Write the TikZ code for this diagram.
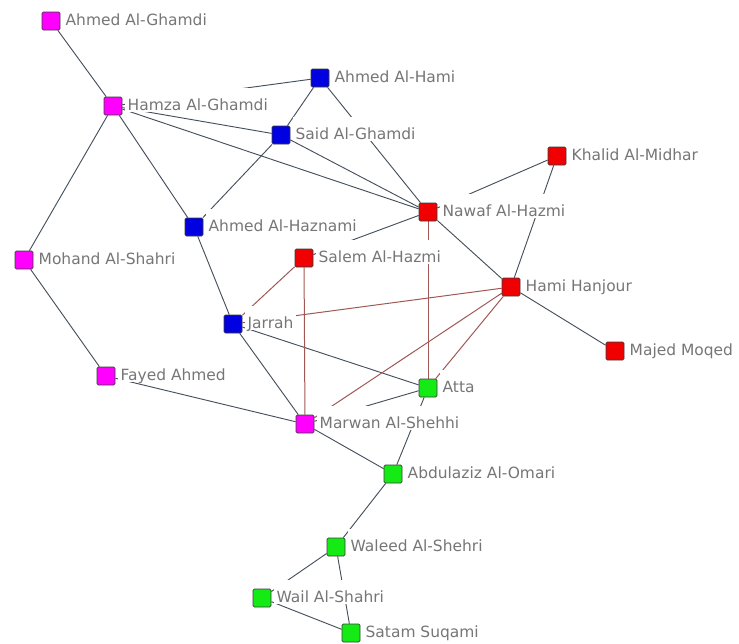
\documentclass[tikz,border=0pt]{standalone}
\usepackage{fontspec}
\setmainfont{DejaVu Sans}
\usetikzlibrary{backgrounds}
\definecolor{hpink}{RGB}{255,0,255}
\definecolor{hblue}{RGB}{0,0,225}
\definecolor{hred}{RGB}{240,0,0}
\definecolor{hgreen}{RGB}{20,235,20}
\definecolor{hborder}{RGB}{60,60,60}
\definecolor{labelgray}{RGB}{118,118,118}
\definecolor{tiegray}{RGB}{70,80,92}
\definecolor{tiered}{RGB}{160,88,84}
\tikzset{
	vert/.style={rectangle,rounded corners=1pt,draw=hborder,line width=0.6pt,minimum size=13.5pt,inner sep=0pt},
	namelabel/.style={fill=white,text=labelgray,font=\fontsize{11.6}{13}\selectfont,inner xsep=2.25pt,inner ysep=0pt,text height=16.5pt,text depth=1.5pt,yshift=4.5pt,label distance=1.5pt},
	tie/.style={color=tiegray, line width=0.7pt},
	redtie/.style={color=tiered, line width=0.75pt}
}
\begin{document}
\begin{tikzpicture}[x=0.75pt,y=-0.75pt]
		\useasboundingbox (0,0) rectangle (739,643);
		\node [vert, fill = hpink, label={[namelabel]right:Ahmed Al-Ghamdi}] (0) at (51, 21) {};
		\node [vert, fill = hpink, label={[namelabel]right:Hamza Al-Ghamdi}] (1) at (113, 106) {};
		\node [vert, fill = hblue, label={[namelabel]right:Ahmed Al-Hami}] (2) at (320, 78) {};
		\node [vert, fill = hblue, label={[namelabel]right:Said Al-Ghamdi}] (3) at (281, 135) {};
		\node [vert, fill = hred, label={[namelabel]right:Khalid Al-Midhar}] (4) at (557, 156) {};
		\node [vert, fill = hred, label={[namelabel]right:Nawaf Al-Hazmi}] (5) at (428, 212) {};
		\node [vert, fill = hblue, label={[namelabel]right:Ahmed Al-Haznami}] (6) at (194, 227) {};
		\node [vert, fill = hpink, label={[namelabel]right:Mohand Al-Shahri}] (7) at (24, 260) {};
		\node [vert, fill = hred, label={[namelabel]right:Salem Al-Hazmi}] (8) at (304, 258) {};
		\node [vert, fill = hred, label={[namelabel]right:Hami Hanjour}] (9) at (511, 287) {};
		\node [vert, fill = hblue, label={[namelabel]right:Jarrah}] (10) at (233, 324) {};
		\node [vert, fill = hred, label={[namelabel]right:Majed Moqed}] (11) at (615, 351) {};
		\node [vert, fill = hpink, label={[namelabel]right:Fayed Ahmed}] (12) at (106, 376) {};
		\node [vert, fill = hgreen, label={[namelabel]right:Atta}] (13) at (428, 388) {};
		\node [vert, fill = hpink, label={[namelabel]right:Marwan Al-Shehhi}] (14) at (305, 424) {};
		\node [vert, fill = hgreen, label={[namelabel]right:Abdulaziz Al-Omari}] (15) at (393, 474) {};
		\node [vert, fill = hgreen, label={[namelabel]right:Waleed Al-Shehri}] (16) at (336, 547) {};
		\node [vert, fill = hgreen, label={[namelabel]right:Wail Al-Shahri}] (17) at (262, 598) {};
		\node [vert, fill = hgreen, label={[namelabel]right:Satam Suqami}] (18) at (351, 633) {};

		\begin{scope}[on background layer]
		\draw [tie] (0) to (1);
		\draw [tie] (1) to (2);
		\draw [tie] (1) to (3);
		\draw [tie] (1) to (5);
		\draw [tie] (1) to (6);
		\draw [tie] (1) to (7);
		\draw [tie] (2) to (3);
		\draw [tie] (2) to (5);
		\draw [tie] (3) to (6);
		\draw [tie] (3) to (5);
		\draw [tie] (5) to (4);
		\draw [tie] (5) to (9);
		\draw [tie] (5) to (8);
		\draw [tie] (4) to (9);
		\draw [tie] (9) to (11);
		\draw [tie] (6) to (10);
		\draw [tie] (10) to (14);
		\draw [tie] (10) to (13);
		\draw [tie] (7) to (12);
		\draw [tie] (12) to (14);
		\draw [tie] (14) to (13);
		\draw [tie] (14) to (15);
		\draw [tie] (13) to (15);
		\draw [tie] (15) to (16);
		\draw [tie] (16) to (17);
		\draw [tie] (16) to (18);
		\draw [tie] (17) to (18);
		\draw [redtie] (5) to (13);
		\draw [redtie] (9) to (10);
		\draw [redtie] (9) to (14);
		\draw [redtie] (9) to (13);
		\draw [redtie] (8) to (10);
		\draw [redtie] (8) to (14);
		\end{scope}
\end{tikzpicture}
\end{document}
